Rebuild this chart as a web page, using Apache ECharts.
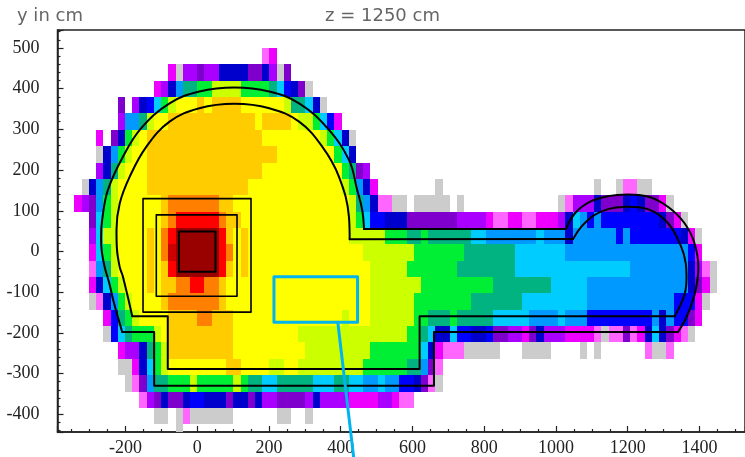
<!DOCTYPE html>
<html>
<head>
<meta charset="utf-8">
<script src="https://cdn.jsdelivr.net/npm/echarts@6/dist/echarts.min.js"></script>
<style>html,body{margin:0;padding:0;background:#fff}#c{width:745px;height:457px}</style>
</head>
<body>
<div id="c"></div>
<script>
// flux levels: one letter per level, lowest (gray) to highest (dark red)
var levelKeys = ['g','p','m','v','d','n','b','a','c','t','e','l','y','o','r','R','X','D'];
var levelColors = ['#cccccc','#ff66ff','#ee00ff','#aa00ff','#7f00cc','#0000cc','#0000ff','#0099ff','#00ccff','#00b380','#00ee33','#ccff00','#ffff00','#ffcc00','#ff8000','#ff0000','#cc0000','#990000'];
var title = 'z = 1250 cm', yTitle = 'y in cm';
// bin sizes of the histogram, in cm
var xBin = 20.12, yBin = 40.2, yTop = 500;
// each row runs from y top downward: "@col" jumps to a column, "a3" = 3 cells of level a, "_n" = empty
var rows = [
"@9 p1 m1",
"@-4 m1 g1 v2 d1 v2 n4 d2 n1 v1 g1 d1",
"@-6 m1 v1 n1 a1 t2 e2 l4 e4 t1 c1 b1 n1 d1 g1",
"@-11 d1 _1 v1 n1 b1 c1 e1 l1 y3 o1 y1 o4 y6 l1 t2 c1 n1 g1",
"@-11 v1 a2 t1 l1 y2 o12 y1 o4 y1 l2 e1 c1 b1 m1",
"@-14 m1 _1 d1 n1 e1 l1 y1 o16 y8 l1 e1 c1 n1 g1",
"@-14 g1 n1 a1 e1 l1 y2 o18 y8 e1 c1 n1",
"@-14 v1 n1 t1 l1 y3 o16 y11 e1 t1 d1 v1",
"@-16 g1 n1 a1 t1 l1 y4 o14 y13 l1 e1 a1 n1 m1 @33 g1 @55 g1 @58 g1 p2 g2",
"@-17 m1 v1 d1 a1 e1 l1 y6 o1 r7 o2 y16 l1 t1 a1 n1 p2 g2 _1 g5 _1 g1 @50 g1 p1 v3 n1 d3 n1 b1 n1 d2 m1 g1",
"@-15 d1 c1 e1 l1 y6 o1 r1 R6 r1 o2 y15 l1 e1 c1 b2 n3 d7 v4 m1 p2 m2 p2 m3 v1 n1 c1 a1 b1 a1 b8 n1 d1 m1 g1",
"@-15 v1 c1 l2 y4 o1 y1 r1 R1 D6 R1 o1 y1 o1 y14 l5 e3 t2 e1 t6 c2 a7 c1 a3 n1 a6 b1 a1 b7 n1 m1 g1",
"@-15 m1 c1 e1 l1 y4 o1 y1 r1 X1 D6 R1 r1 y1 o1 y16 l7 e7 t7 c7 a17 b1 m1",
"@-15 p1 a1 t1 l1 y4 o1 y1 o1 R1 D6 R1 o1 y1 o1 y17 l5 e7 t8 c16 a8 n1 v1 p1 g1",
"@-15 m1 n1 c1 e1 l1 y3 o1 y1 o2 r2 R2 r2 o1 y20 l7 e10 t8 c5 a14 n1 d1 m1 g1",
"@-15 g1 p1 n1 a1 e1 l1 y4 o1 r7 o1 y20 l6 e8 t7 c9 a12 b3 m1 g1",
"@-13 m1 b1 t1 e1 l1 y4 o4 r2 o3 y15 l1 y3 l6 e2 t3 e1 t5 c5 a4 c1 a3 b9 a1 n1 a1 b2 d1 m1",
"@-13 g1 b1 c1 t1 e3 l1 y1 o9 y9 l15 e2 t1 c1 n2 c1 b2 n2 b1 d2 v2 m1 d1 n1 v3 m4 p1 g1 p2 d1 p1 m1 n1 c1 n1 d1 m1 p1 g1",
"@-11 m1 v2 n1 t1 e1 l1 o9 y10 l9 e7 c1 n1 m1 p3 g5 @45 g4 @53 g1 @55 g1 @62 p1 g2 p1",
"@-11 g2 m1 n1 c1 e1 l1 y8 o2 y4 l2 y2 l9 e6 t2 a1 d1 p1",
"@-10 g1 p1 d1 a1 t2 e3 l1 e5 l1 e1 t2 c2 t5 c3 t2 c2 a2 c1 a2 b2 n1 d1 p1 g1",
"@-8 p1 v1 d1 n1 d2 n1 b2 n3 d1 n2 d1 n1 v2 d4 v1 n1 v4 m4 v2 m1 p2",
"@-6 g2 _1 g1 p1 g6 @11 g2 @15 g1",
"@-3 g1"
];
// detector outlines, cm
var outerBigArc = [[-209,-198],[-234,-120],[-245,-78],[-258,-38],[-266,0],[-268,35],[-265,77],[-249,151],[-207,233],[-156,303],[-77,364],[6,393],[104,403],[201,393],[284,364],[363,303],[423,225],[446,151],[460,102],[465,55]];
var outerSmallArc = [[1028,55],[1053,94],[1094,122],[1145,136],[1200,140],[1256,135],[1312,110],[1358,70],[1386,21],[1397,-40],[1387,-104],[1364,-161],[1340,-198]];
var outerStraight = [[465,55],[1028,55]];
var outerLower = [[1340,-198],[660,-198],[660,-330],[-120,-330],[-120,-198],[-209,-198]];
var innerBigArc = [[-181,-159],[-207,-62],[-216,-38],[-224,10],[-225,53],[-216,118],[-188,184],[-142,257],[-77,319],[6,352],[104,363],[201,352],[284,319],[349,257],[395,184],[423,85],[425,30]];
var innerSmallArc = [[1048,31],[1071,61],[1108,90],[1154,106],[1200,110],[1256,104],[1312,70],[1349,12],[1362,-30],[1364,-62],[1359,-104],[1331,-159]];
var innerStraight = [[425,30],[1048,31]];
var innerLower = [[1331,-159],[620,-159],[620,-289],[-82,-289],[-82,-159],[-181,-159]];
var boxOuter = [[-151,130],[150,130],[150,-149],[-151,-149],[-151,130]];
var boxMiddle = [[-114,90],[111,90],[111,-110],[-114,-110],[-114,90]];
var boxInner = [[-51,49],[51,49],[51,-50],[-51,-50],[-51,49]];
var calloutBox = [[214,-62],[447,-62],[447,-174],[214,-174],[214,-62]];
var calloutLeader = [[392,-174],[437,-512]];

var cells = [];
rows.forEach(function (row, r) {
  var col = 0;
  row.split(' ').forEach(function (tok) {
    if (tok[0] === '@') { col = parseInt(tok.slice(1), 10); return; }
    var key = tok[0], n = parseInt(tok.slice(1), 10);
    for (var i = 0; i < n; i++, col++) {
      if (key === '_') continue;
      cells.push([col * xBin, (col + 1) * xBin, yTop - r * yBin, yTop - (r + 1) * yBin, levelKeys.indexOf(key)]);
    }
  });
});

function outline(data, width, color, smooth) {
  return { type: 'line', data: data, showSymbol: false, silent: true, clip: false, z: 5, smooth: smooth || false,
    lineStyle: { color: color || '#000', width: width, join: 'round', cap: 'round' }, animation: false };
}
var labelFont = { color: '#222', fontFamily: 'Liberation Serif', fontSize: 18, formatter: function (v) { return String(v); } };
var titleFont = { fontFamily: 'DejaVu Sans', fontWeight: 'normal', fontSize: 18, color: '#666' };
var chart = echarts.init(document.getElementById('c'), null, { renderer: 'canvas' });
chart.setOption({
  animation: false,
  backgroundColor: '#fff',
  title: [
    { text: yTitle, left: 12, top: 2, textStyle: titleFont },
    { text: title, left: 320, top: 2, textStyle: titleFont }
  ],
  grid: { left: 57.5, top: 30, width: 690, height: 402, show: true, borderColor: '#222', borderWidth: 1.5, backgroundColor: '#fff' },
  xAxis: {
    type: 'value', min: -389.4, max: 1527, splitNumber: 10,
    axisLine: { show: true, onZero: false, lineStyle: { color: '#222', width: 1.5 } },
    axisTick: { show: true, inside: true, length: 6, lineStyle: { color: '#222', width: 1.2 } },
    minorTick: { show: true, splitNumber: 4, length: 3, lineStyle: { color: '#222', width: 1.2 } },
    splitLine: { show: false },
    axisLabel: Object.assign({ margin: 7, showMinLabel: false, showMaxLabel: false }, labelFont)
  },
  yAxis: {
    type: 'value', min: -443.5, max: 544.2, splitNumber: 10,
    axisLine: { show: true, onZero: false, lineStyle: { color: '#222', width: 1.5 } },
    axisTick: { show: true, inside: true, length: 6, lineStyle: { color: '#222', width: 1.2 } },
    minorTick: { show: true, splitNumber: 5, length: 3, lineStyle: { color: '#222', width: 1.2 } },
    splitLine: { show: false },
    axisLabel: Object.assign({ margin: 18, showMinLabel: false, showMaxLabel: false }, labelFont)
  },
  series: [
    {
      type: 'custom', data: cells, clip: true, silent: true, z: 2,
      encode: { x: [0, 1], y: [2, 3] },
      renderItem: function (params, api) {
        var a = api.coord([api.value(0), api.value(2)]);
        var b = api.coord([api.value(1), api.value(3)]);
        var x0 = Math.round(a[0]), x1 = Math.round(b[0]), y0 = Math.round(a[1]), y1 = Math.round(b[1]);
        var rect = echarts.graphic.clipRectByRect(
          { x: x0, y: y0, width: x1 - x0, height: y1 - y0 },
          { x: params.coordSys.x, y: params.coordSys.y, width: params.coordSys.width, height: params.coordSys.height });
        if (!rect) return null;
        return { type: 'rect', shape: rect, style: { fill: levelColors[api.value(4)] } };
      }
    },
    outline(outerBigArc, 2, '#000', 0.4),
    outline(outerSmallArc, 2, '#000', 0.4),
    outline(outerStraight, 2),
    outline(outerLower, 2),
    outline(innerBigArc, 2, '#000', 0.4),
    outline(innerSmallArc, 2, '#000', 0.4),
    outline(innerStraight, 2),
    outline(innerLower, 2),
    outline(boxOuter, 1.6),
    outline(boxMiddle, 1.6),
    outline(boxInner, 2),
    outline(calloutBox, 3, '#00b4f0'),
    outline(calloutLeader, 3, '#00b4f0')
  ]
});
</script>
</body>
</html>
